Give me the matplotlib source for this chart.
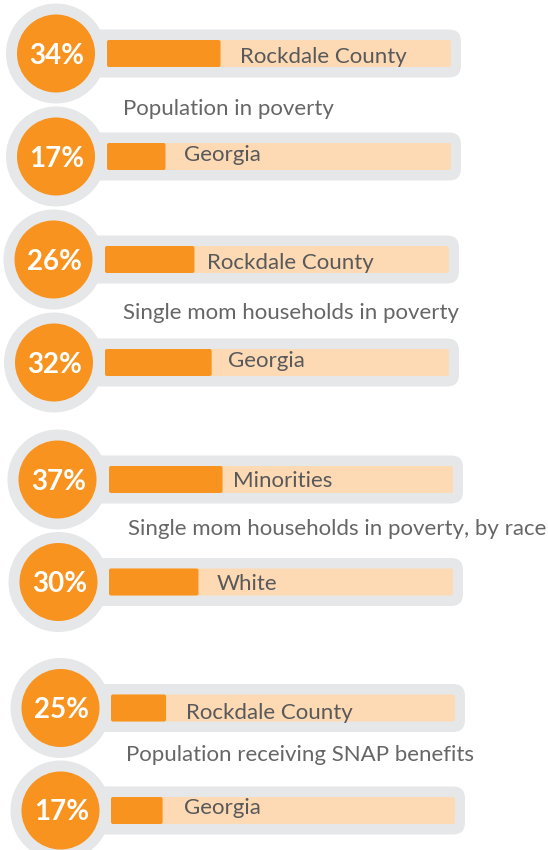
import matplotlib.pyplot as plt
from matplotlib.patches import Circle, FancyBboxPatch

section_titles = [
    "Population in poverty",
    "Single mom households in poverty",
    "Single mom households in poverty, by race",
    "Population receiving SNAP benefits",
]
bar_labels = ["Rockdale County", "Georgia", "Rockdale County", "Georgia",
              "Minorities", "White", "Rockdale County", "Georgia"]
pct_values = [34, 17, 26, 32, 37, 30, 25, 17]
# orange fill as actually drawn (percent of the track)
bar_fill = [33, 17, 26, 31, 33, 26, 16, 15]

# layout in pixels, the original is placed by hand so rows drift a little
circle_x = [56, 56, 53.5, 54, 57.5, 58.5, 60.5, 60.5]
row_y = [53.5, 156.5, 259.5, 362.5, 479.5, 582, 708, 810.5]
track_x0 = [107, 107, 105, 105, 109, 109, 111, 111]
label_x = [240, 184, 207, 228, 233, 217, 186, 184]
label_base = [63, 161, 269, 367, 487, 590, 719, 814]
title_x = [123, 123, 128, 126]
title_base = [115, 319, 535, 761]

TRACK_W = 344
TRACK_H = 27
PILL_H = 48
PILL_PAD = 10
RING_R = 50
DOT_R = 39

ORANGE = "#F7931E"
PEACH = "#FDDAB4"
GREY = "#E6E7E8"
TEXT = "#58595B"
TITLE = "#666666"

plt.rcParams["font.family"] = ["Lato", "DejaVu Sans"]

fig = plt.figure(figsize=(5.48, 8.5), dpi=100)
ax = fig.add_axes([0, 0, 1, 1])
ax.set_xlim(0, 548)
ax.set_ylim(850, 0)
ax.axis("off")

for i in range(len(pct_values)):
    cx, cy = circle_x[i], row_y[i]
    x0 = track_x0[i]
    pill_right = x0 + TRACK_W + PILL_PAD

    # grey pill behind the track
    ax.add_patch(FancyBboxPatch((cx, cy - PILL_H / 2), pill_right - cx, PILL_H,
                                boxstyle="round,pad=0,rounding_size=12",
                                fc=GREY, ec="none", zorder=1))
    ax.add_patch(Circle((cx, cy), RING_R, fc=GREY, ec="none", zorder=1))
    ax.add_patch(Circle((cx, cy), DOT_R, fc=ORANGE, ec="none", zorder=2))

    # peach track and orange fill
    ax.add_patch(FancyBboxPatch((x0, cy - TRACK_H / 2), TRACK_W, TRACK_H,
                                boxstyle="round,pad=0,rounding_size=2",
                                fc=PEACH, ec="none", zorder=2))
    ax.add_patch(FancyBboxPatch((x0, cy - TRACK_H / 2), bar_fill[i] / 100 * TRACK_W, TRACK_H,
                                boxstyle="round,pad=0,rounding_size=2",
                                fc=ORANGE, ec="none", zorder=3))

    ax.text(cx + 1, cy + 10, f"{pct_values[i]}%", color="white", fontsize=20,
            fontweight="bold", ha="center", va="baseline", zorder=4)
    ax.text(label_x[i], label_base[i], bar_labels[i], color=TEXT, fontsize=16,
            ha="left", va="baseline", zorder=4)

for t, x, y in zip(section_titles, title_x, title_base):
    ax.text(x, y, t, color=TITLE, fontsize=16, ha="left", va="baseline")

fig.savefig("out.png", dpi=100, facecolor="white")
